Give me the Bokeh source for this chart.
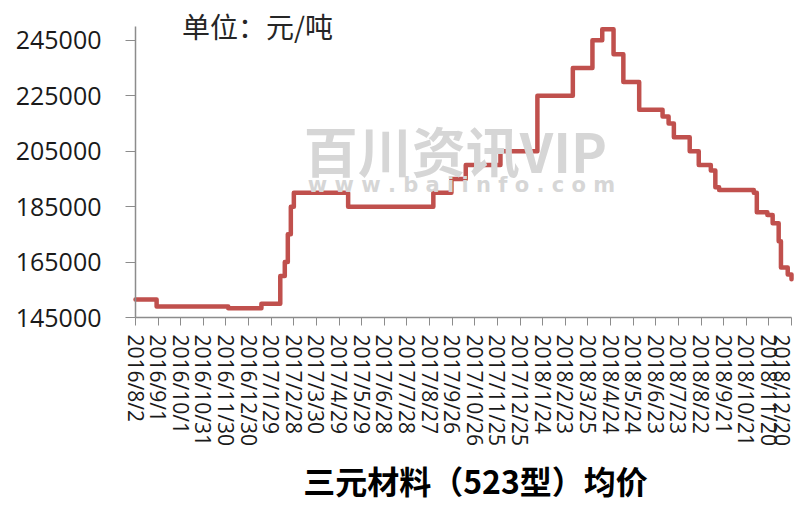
import math
import pandas as pd
from bokeh.plotting import figure
from bokeh.models import Range1d, FixedTicker, BasicTickFormatter, Label
from bokeh.embed import file_html
from bokeh.resources import INLINE

# ---- data ----
change_dates = [
    "2016-08-02", "2016-08-30", "2016-12-03", "2017-01-16", "2017-02-10",
    "2017-02-16", "2017-02-20", "2017-02-24", "2017-02-28", "2017-05-11",
    "2017-09-01", "2017-09-25", "2017-10-14", "2017-11-29", "2018-01-17",
    "2018-03-05", "2018-03-31", "2018-04-13", "2018-04-28", "2018-05-11",
    "2018-06-01", "2018-07-02", "2018-07-10", "2018-07-17", "2018-08-07",
    "2018-08-19", "2018-09-04", "2018-09-10", "2018-09-15", "2018-10-31",
    "2018-11-04", "2018-11-18", "2018-11-25", "2018-12-03", "2018-12-06",
    "2018-12-15", "2018-12-20",
]
prices = [
    151500, 149000, 148300, 150000, 160000,
    165000, 175000, 185000, 190000, 185000,
    190000, 195000, 200000, 205000, 225000,
    235000, 245000, 249000, 240000, 230000,
    220000, 217500, 215000, 210000, 205000,
    200000, 198000, 192000, 191000, 190000,
    183000, 182000, 179000, 172500, 163000,
    160500, 158800,
]
x_tick_labels = [
    "2016/8/2", "2016/9/1", "2016/10/1", "2016/10/31", "2016/11/30",
    "2016/12/30", "2017/1/29", "2017/2/28", "2017/3/30", "2017/4/29",
    "2017/5/29", "2017/6/28", "2017/7/28", "2017/8/27", "2017/9/26",
    "2017/10/26", "2017/11/25", "2017/12/25", "2018/1/24", "2018/2/23",
    "2018/3/25", "2018/4/24", "2018/5/24", "2018/6/23", "2018/7/23",
    "2018/8/22", "2018/9/21", "2018/10/21", "2018/11/20", "2018/12/20",
]
y_ticks = [145000, 165000, 185000, 205000, 225000, 245000]
y_axis_min, y_axis_max = 145000, 250000
unit_text = "单位：元/吨"
chart_title = "三元材料（523型）均价"
watermark_cn = "百川资讯VIP"
watermark_url = "w w w . b a i i n f o . c o m"

# ---- layout (pixels) ----
W, H = 795, 504
axis_left_px, axis_right_px = 135, 791        # 2016/8/2 .. 2018/12/20
axis_top_px, axis_bottom_px = 26, 317         # 250000 .. 145000

# ---- build ----
x = pd.to_datetime(change_dates)
tick_dt = pd.to_datetime(x_tick_labels, format="%Y/%m/%d")
tick_ms = [float(t.value // 10**6) for t in tick_dt]
overrides = {ms: lab for ms, lab in zip(tick_ms, x_tick_labels)}

x0, x1 = tick_ms[0], tick_ms[-1]
ms_per_px = (x1 - x0) / (axis_right_px - axis_left_px)
x_view = (x0 - axis_left_px * ms_per_px, x1 + (W - axis_right_px) * ms_per_px)
v_per_px = (y_axis_max - y_axis_min) / (axis_bottom_px - axis_top_px)
y_view = (y_axis_min - (H - axis_bottom_px) * v_per_px,
          y_axis_min + axis_bottom_px * v_per_px)


def fy(py):  # page y -> frame-relative screen y (frame == whole canvas)
    return H - py


p = figure(width=W, height=H, x_axis_type="datetime",
           output_backend="svg", toolbar_location=None,
           x_range=Range1d(*x_view), y_range=Range1d(*y_view),
           min_border=0)
p.outline_line_color = None
p.grid.grid_line_color = None
p.background_fill_color = "white"
p.border_fill_color = "white"

p.step(x, prices, mode="after", line_color="#C0504D", line_width=4.5,
       line_join="round", line_cap="round")

axis_col = "#8c8c8c"
xa = p.xaxis[0]
xa.fixed_location = y_axis_min
xa.bounds = (x0, x1)
xa.ticker = FixedTicker(ticks=tick_ms)
xa.major_label_overrides = overrides
xa.major_label_orientation = -math.pi / 2
xa.major_label_text_font = "Open Sans"
xa.major_label_text_font_size = "21px"
xa.major_label_text_color = "#1a1a1a"
xa.major_label_standoff = 9
xa.axis_line_color = axis_col
xa.axis_line_width = 1.5
xa.major_tick_line_color = axis_col
xa.major_tick_out = 8
xa.major_tick_in = 0
xa.minor_tick_line_color = None

ya = p.yaxis[0]
ya.fixed_location = x0
ya.bounds = (y_axis_min, y_axis_max)
ya.ticker = FixedTicker(ticks=y_ticks)
ya.formatter = BasicTickFormatter(use_scientific=False)
ya.major_label_text_font = "Open Sans"
ya.major_label_text_font_size = "25px"
ya.major_label_text_color = "#1a1a1a"
ya.major_label_standoff = 24
ya.axis_line_color = axis_col
ya.axis_line_width = 1.5
ya.major_tick_line_color = axis_col
ya.major_tick_out = 10
ya.major_tick_in = 0
ya.minor_tick_line_color = None

# watermark
p.add_layout(Label(x=455, y=fy(149), x_units="screen", y_units="screen",
                   text=watermark_cn, text_font="Noto Sans CJK SC",
                   text_font_size="54px", text_font_style="bold",
                   text_color="#d6d6d6", text_align="center",
                   text_baseline="middle"))
p.add_layout(Label(x=461, y=fy(184), x_units="screen", y_units="screen",
                   text=watermark_url, text_font="DejaVu Sans",
                   text_font_size="21px", text_font_style="bold",
                   text_color="#d6d6d6", text_align="center",
                   text_baseline="middle"))

# unit label
p.add_layout(Label(x=257, y=fy(25), x_units="screen", y_units="screen",
                   text=unit_text, text_font="Noto Sans CJK SC",
                   text_font_size="28px", text_color="#262626",
                   text_align="center", text_baseline="middle"))

# bottom title
p.add_layout(Label(x=475, y=fy(479), x_units="screen", y_units="screen",
                   text=chart_title, text_font="Noto Sans CJK SC",
                   text_font_size="32px", text_font_style="bold",
                   text_color="#000000", text_align="center",
                   text_baseline="middle"))

open("out.html", "w").write(file_html(p, INLINE))
